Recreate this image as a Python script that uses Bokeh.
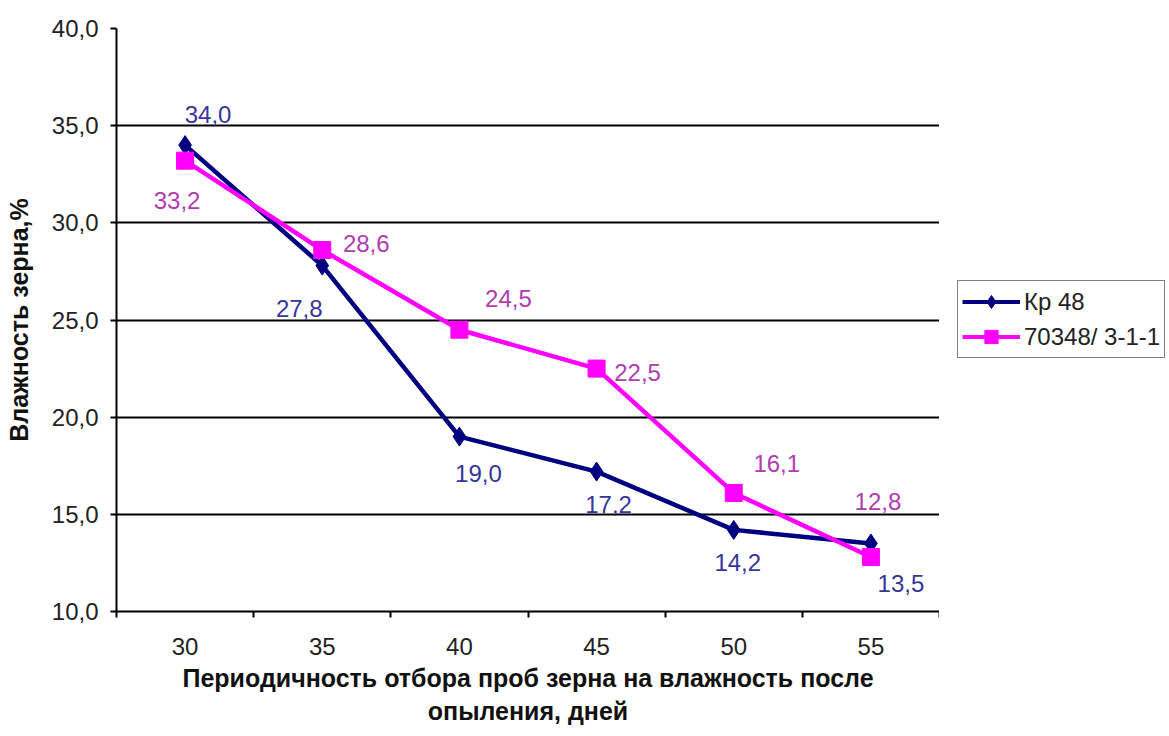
import numpy as np
from bokeh.plotting import figure
from bokeh.layouts import row
from bokeh.models import (ColumnDataSource, Range1d, FixedTicker, Legend, LegendItem)
from bokeh.core.properties import value
from bokeh.embed import file_html
from bokeh.resources import INLINE

# Sampling interval after pollination, days
days = [30, 35, 40, 45, 50, 55]
# Grain moisture, %
kp48 = [34.0, 27.8, 19.0, 17.2, 14.2, 13.5]
line_70348 = [33.2, 28.6, 24.5, 22.5, 16.1, 12.8]
series_names = ["Кр 48", "70348/ 3-1-1"]
y_ticks = [10, 15, 20, 25, 30, 35, 40]

# label placement around each marker (screen px, x right / y down)
kp_dx = [23, -23, 19, 12, 4, 30]
kp_dy = [-31, 43, 37, 33, 33, 40]
mg_dx = [-8, 44, 49, 41, 43, 7]
mg_dy = [40, -7, -31, 4, -29, -56]

NAVY = "#000080"
MAGENTA = "#FF00FF"
NAVY_TXT = "#36369A"
MAGENTA_TXT = "#B03CB0"
FONT = "Liberation Sans"

def fmt(v):
    return f"{v:.1f}".replace(".", ",")

xs = list(range(len(days)))

p = figure(width=939, height=736, output_backend="svg", toolbar_location=None,
           x_range=Range1d(-0.5, len(days) - 0.5), y_range=Range1d(10, 40),
           min_border_left=116, min_border_right=0, min_border_top=28,
           min_border_bottom=125)
p.outline_line_color = None
p.background_fill_color = "white"
p.border_fill_color = "white"

# axes
p.xaxis.ticker = FixedTicker(ticks=xs, minor_ticks=[x - 0.5 for x in xs] + [xs[-1] + 0.5])
p.xaxis.major_label_overrides = {x: str(d) for x, d in zip(xs, days)}
p.xaxis.major_tick_line_color = None
p.xaxis.major_tick_out = 0
p.xaxis.major_tick_in = 0
p.xaxis.minor_tick_line_color = "black"
p.xaxis.minor_tick_line_width = 2
p.xaxis.minor_tick_out = 6
p.xaxis.minor_tick_in = 0
p.xaxis.major_label_standoff = 20
p.xaxis.axis_label = "Периодичность отбора проб зерна на влажность после\nопыления, дней"
p.xaxis.axis_label_standoff = 6

p.yaxis.ticker = FixedTicker(ticks=y_ticks, minor_ticks=[])
p.yaxis.major_label_overrides = {t: fmt(t) for t in y_ticks}
p.yaxis.major_tick_out = 6
p.yaxis.major_tick_in = 0
p.yaxis.major_tick_line_width = 2
p.yaxis.major_label_standoff = 12
p.yaxis.axis_label = "Влажность зерна,%"
p.yaxis.axis_label_standoff = 16

for ax in (p.xaxis, p.yaxis):
    ax.axis_line_color = "black"
    ax.axis_line_width = 2
    ax.major_label_text_font = FONT
    ax.major_label_text_font_size = "24px"
    ax.major_label_text_color = "#222222"
    ax.axis_label_text_font = FONT
    ax.axis_label_text_font_size = "25px"
    ax.axis_label_text_font_style = "bold"
    ax.axis_label_text_color = "#111111"

p.xgrid.grid_line_color = None
p.ygrid.ticker = FixedTicker(ticks=y_ticks)
p.ygrid.grid_line_color = "black"
p.ygrid.grid_line_width = 2

src_kp = ColumnDataSource(dict(x=xs, y=kp48, label=[fmt(v) for v in kp48],
                               dx=kp_dx, dy=kp_dy))
src_mg = ColumnDataSource(dict(x=xs, y=line_70348, label=[fmt(v) for v in line_70348],
                               dx=mg_dx, dy=mg_dy))

p.line("x", "y", source=src_kp, line_color=NAVY, line_width=4.5)
p.scatter("x", "y", source=src_kp, marker="diamond", size=19,
          fill_color=NAVY, line_color=NAVY)
p.line("x", "y", source=src_mg, line_color=MAGENTA, line_width=4.5)
p.scatter("x", "y", source=src_mg, marker="square", size=17,
          fill_color=MAGENTA, line_color=MAGENTA)

for src, col in ((src_kp, NAVY_TXT), (src_mg, MAGENTA_TXT)):
    p.text("x", "y", text="label", source=src, x_offset="dx", y_offset="dy",
           text_align="center", text_baseline="middle",
           text_font=value(FONT), text_font_size="24px", text_color=col)

# legend panel to the right of the chart (its frame lines up with the chart's)
lg = figure(width=230, height=736, output_backend="svg", toolbar_location=None,
            x_range=Range1d(0, 1), y_range=Range1d(0, 1),
            x_axis_location=None, y_axis_location=None,
            min_border=0, outline_line_color=None)
lg.grid.visible = False
blank = dict(x=[0], y=[np.nan])
lk1 = lg.line("x", "y", source=ColumnDataSource(blank), line_color=NAVY, line_width=4)
lk2 = lg.scatter("x", "y", source=ColumnDataSource(blank), marker="diamond", size=14,
                 fill_color=NAVY, line_color=NAVY)
lm1 = lg.line("x", "y", source=ColumnDataSource(blank), line_color=MAGENTA, line_width=4)
lm2 = lg.scatter("x", "y", source=ColumnDataSource(blank), marker="square", size=11,
                 fill_color=MAGENTA, line_color=MAGENTA)

legend = Legend(items=[LegendItem(label=series_names[0], renderers=[lk1, lk2]),
                       LegendItem(label=series_names[1], renderers=[lm1, lm2])],
                location=(18, 253), orientation="vertical",
                glyph_width=58, glyph_height=33, label_height=33,
                label_standoff=4, padding=4, spacing=2, margin=0,
                border_line_color="black", border_line_width=1.5,
                background_fill_color="white", background_fill_alpha=1,
                label_text_font=FONT, label_text_font_size="24px",
                label_text_color="#222222")
lg.add_layout(legend, "center")

layout = row(p, lg, spacing=0)
open("out.html", "w").write(file_html(layout, INLINE))
